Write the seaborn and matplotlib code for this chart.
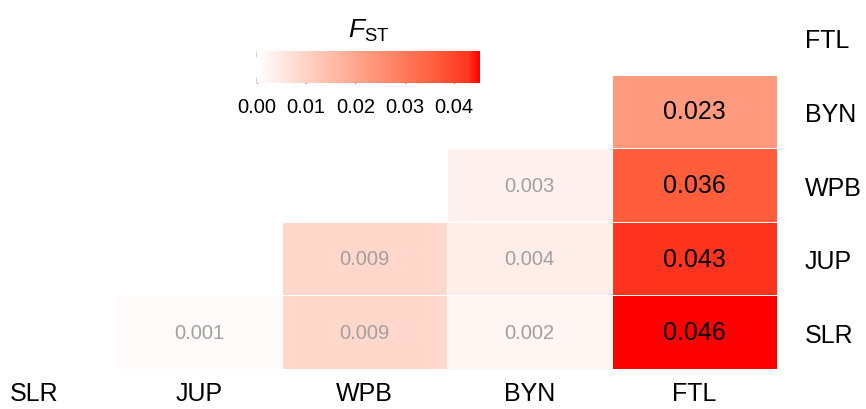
import numpy as np
import pandas as pd
import matplotlib
matplotlib.use('Agg')
import matplotlib.pyplot as plt
import seaborn as sns
from matplotlib.colors import LinearSegmentedColormap

pops = ['SLR', 'JUP', 'WPB', 'BYN', 'FTL']
rows = ['FTL', 'BYN', 'WPB', 'JUP', 'SLR']
nan = np.nan
fst_FTL = [nan, nan, nan, nan, nan]
fst_BYN = [nan, nan, nan, nan, 0.023]
fst_WPB = [nan, nan, nan, 0.003, 0.036]
fst_JUP = [nan, nan, 0.009, 0.004, 0.043]
fst_SLR = [nan, 0.001, 0.009, 0.002, 0.046]
cbar_ticks = [0.00, 0.01, 0.02, 0.03, 0.04]

data = pd.DataFrame([fst_FTL, fst_BYN, fst_WPB, fst_JUP, fst_SLR], index=rows, columns=pops)

sns.set_style('white')
plt.rcParams['font.family'] = ['Liberation Sans', 'DejaVu Sans']
plt.rcParams['text.color'] = 'black'
plt.rcParams['xtick.labelcolor'] = 'black'
plt.rcParams['ytick.labelcolor'] = 'black'
plt.rcParams['mathtext.fontset'] = 'custom'
plt.rcParams['mathtext.rm'] = 'Liberation Sans'
plt.rcParams['mathtext.it'] = 'Liberation Sans:italic'

# white -> red, roughly Lab-interpolated like ggplot's gradient
cmap = LinearSegmentedColormap.from_list('fst', [
    (0.0, '#ffffff'), (0.2, '#ffd6ca'), (0.5, '#ff9b80'),
    (0.79, '#ff5f3d'), (0.95, '#ff3620'), (1.0, '#ff0000')])

fig = plt.figure(figsize=(8.66, 4.10), dpi=100)
ax = fig.add_axes([-48 / 866, 40 / 410, 825 / 866, 368 / 410])
cax = fig.add_axes([257 / 866, 326 / 410, 223 / 866, 32 / 410])

sns.heatmap(data, ax=ax, cmap=cmap, vmin=0, vmax=0.0453, annot=True, fmt='.3f',
            linewidths=0.5, linecolor='white', cbar_ax=cax,
            cbar_kws={'orientation': 'horizontal', 'ticks': cbar_ticks})

for t in ax.texts:
    v = float(t.get_text())
    if v >= 0.01:
        t.set_color('black')
        t.set_fontsize(18)
    else:
        t.set_color('#a0a0a0')
        t.set_fontsize(14.5)

ax.yaxis.tick_right()
ax.tick_params(axis='both', length=0, labelsize=18)
ax.tick_params(axis='y', pad=20, labelrotation=0)
ax.tick_params(axis='x', pad=9)
ax.set_xlabel('')
ax.set_ylabel('')

cbar = ax.collections[0].colorbar
cbar.outline.set_visible(False)
cax.xaxis.set_ticks_position('both')
cax.tick_params(axis='x', direction='in', length=4, width=1, labelsize=14.5,
                pad=10, top=True, bottom=True, labeltop=False, labelbottom=True)
for tl in cax.xaxis.get_ticklines():
    tl.set_color('white')
cax.set_xticklabels(['%.2f' % t for t in cbar_ticks])
cax.set_title('$F_{\\mathrm{ST}}$', fontsize=19, pad=10)

fig.savefig('out.png', dpi=100)
